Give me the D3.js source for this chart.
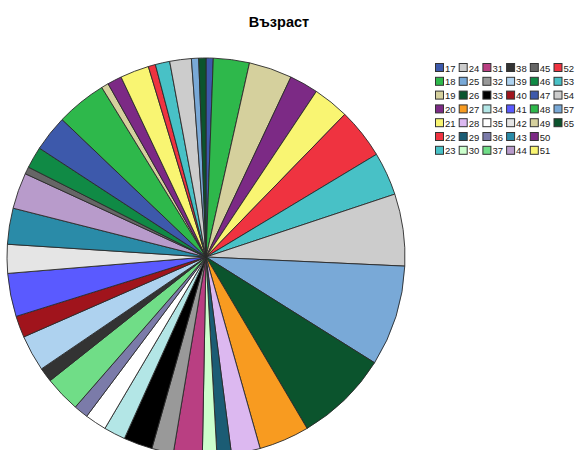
<!DOCTYPE html>
<html>
<head>
<meta charset="utf-8">
<script src="https://cdn.jsdelivr.net/npm/d3@7"></script>
<style>
  body { margin: 0; background: #fff; }
  svg { display: block; }
</style>
</head>
<body>
<svg id="chart" width="579" height="450"></svg>
<script>
// Age groups and number of respondents in each
const ages = ["17","18","19","20","21","22","23","24","25","26","27","28","29","30",
              "31","32","33","34","35","36","37","38","39","40","41","42","43","44",
              "45","46","47","48","49","50","51","52","53","54","57","65"];
const counts = [1,5,6,4,5,7,6,10,14,13,7,4,2,2,
                4,3,4,3,3,2,5,2,5,3,6,4,5,5,
                1,3,5,7,1,2,4,1,2,3,1,1];
// Fill colours, cycled over the categories
const palette = ["#3d59ab","#2eb84b","#d5d09d","#7c2a85","#f9f572","#ef3340","#48c1c6",
                 "#cccccc","#79a9d7","#0b542d","#f89b20","#dcb8f0","#1b5c74","#ccffcc",
                 "#b93f82","#999999","#000000","#b3e6e6","#ffffff","#7b7ba9","#70dd87",
                 "#333333","#aed2ef","#a0141c","#5a5aff","#e5e5e5","#2a8ba8","#b89bcb",
                 "#666666","#108a45"];
const title = "Възраст";

const svg = d3.select("#chart");
const color = d3.scaleOrdinal().domain(ages).range(palette);

const data = ages.map((a, i) => ({ age: a, n: counts[i] }));

// Title
svg.append("text")
  .attr("x", 279)
  .attr("y", 27)
  .attr("text-anchor", "middle")
  .style("font-family", "Liberation Sans, Arial, sans-serif")
  .style("font-weight", "bold")
  .style("font-size", "14.5px")
  .text(title);

// Pie
const cx = 206, cy = 257, r = 199;
const pie = d3.pie().sort(null).value(d => d.n);
const arc = d3.arc().innerRadius(0).outerRadius(r);

const g = svg.append("g").attr("transform", `translate(${cx},${cy})`);
g.selectAll("path")
  .data(pie(data))
  .join("path")
  .attr("d", arc)
  .attr("fill", d => color(d.data.age))
  .attr("stroke", "#2a2a2a")
  .attr("stroke-width", 0.9)
  .attr("stroke-linejoin", "round");

// Legend: column-wise, 7 rows per column
const rows = 7, colStep = 23.7, rowStep = 13.8, sw = 8;
const lx = 435, ly = 63;
const legend = svg.append("g");
const item = legend.selectAll("g")
  .data(ages)
  .join("g")
  .attr("transform", (d, i) =>
    `translate(${lx + Math.floor(i / rows) * colStep},${ly + (i % rows) * rowStep})`);
item.append("rect")
  .attr("x", 0.5).attr("y", 0.5)
  .attr("width", sw).attr("height", sw)
  .attr("fill", d => color(d))
  .attr("stroke", "#333")
  .attr("stroke-width", 1);
item.append("text")
  .attr("x", sw + 2)
  .attr("y", sw + 0.5)
  .style("font-family", "Liberation Sans, Arial, sans-serif")
  .style("font-size", "9.5px")
  .attr("fill", "#222")
  .text(d => d);
</script>
</body>
</html>
